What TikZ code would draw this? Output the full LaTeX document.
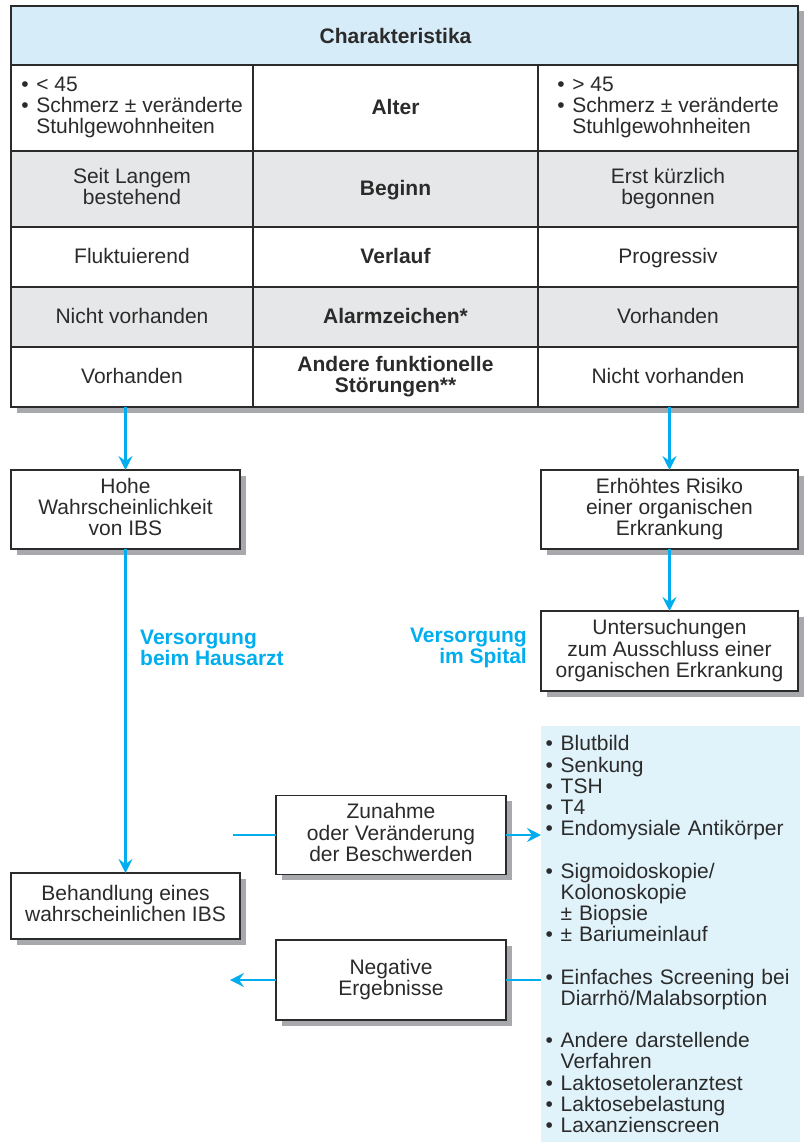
\documentclass[tikz,border=0pt]{standalone}
\usepackage{fontspec}
\setmainfont{Liberation Sans}
\usetikzlibrary{positioning}
\usetikzlibrary{arrows.meta}
\usetikzlibrary{shadows}

\definecolor{headblue}{HTML}{D6ECF8}
\definecolor{rowgray}{HTML}{E6E7E8}
\definecolor{listblue}{HTML}{E0F2FA}
\definecolor{arrowblue}{HTML}{00AEEF}
\definecolor{shadowgray}{HTML}{A7A9AC}
\definecolor{linegray}{HTML}{2B2B2B}

\newcommand{\basefont}{\fontsize{21}{21.2}\selectfont}
\newcommand{\cellstrut}{\rule[-5pt]{0pt}{23pt}}
\newcommand{\bul}{\makebox[15pt][l]{\textbullet}}
\newcommand{\ind}{\hspace*{15pt}}

\tikzset{
	cell/.style={draw=linegray,line width=1.5pt,rectangle,fill=white,outer sep=0pt,inner sep=0pt,align=center,
		execute at begin node=\cellstrut,execute at end node=\cellstrut,
		drop shadow={shadow xshift=5.5pt,shadow yshift=-5.5pt,fill=shadowgray,opacity=1}},
	colL/.style={cell,minimum width=242pt},
	colM/.style={cell,minimum width=285pt,font=\basefont\bfseries},
	colR/.style={cell,minimum width=260pt},
	stepbox/.style={cell,minimum width=229pt,minimum height=79pt},
	flow/.style={draw=arrowblue,line width=2.8pt,-{Stealth[length=14pt,width=14pt,inset=5pt]}},
	flowline/.style={draw=arrowblue,line width=2.8pt},
	carelabel/.style={text=arrowblue,font=\basefont\bfseries,inner sep=0pt},
}

\begin{document}
\begin{tikzpicture}[x=1pt,y=1pt,font=\basefont,text=linegray]
		\useasboundingbox (0,0) rectangle (805,-1142);

		% table
		\node [cell,fill=headblue,minimum width=787pt,minimum height=59pt,anchor=north west] (head) at (11,-6) {};

		\node [colL,below=0pt of head.south west,anchor=north west,minimum height=86pt,align=left] (alterL) {\bul{}< 45\\\bul{}Schmerz ± veränderte\\\ind{}Stuhlgewohnheiten};
		\node [colM,right=0pt of alterL,minimum height=86pt] (alterM) {Alter};
		\node [colR,right=0pt of alterM,minimum height=86pt,align=left] (alterR) {\bul{}> 45\\\bul{}Schmerz ± veränderte\\\ind{}Stuhlgewohnheiten};

		\node [colL,below=0pt of alterL,minimum height=76pt,fill=rowgray] (beginnL) {Seit Langem\\bestehend};
		\node [colM,right=0pt of beginnL,minimum height=76pt,fill=rowgray] (beginnM) {Beginn};
		\node [colR,right=0pt of beginnM,minimum height=76pt,fill=rowgray] (beginnR) {Erst kürzlich\\begonnen};

		\node [colL,below=0pt of beginnL,minimum height=60pt] (verlaufL) {Fluktuierend};
		\node [colM,right=0pt of verlaufL,minimum height=60pt] (verlaufM) {Verlauf};
		\node [colR,right=0pt of verlaufM,minimum height=60pt] (verlaufR) {Progressiv};

		\node [colL,below=0pt of verlaufL,minimum height=60pt,fill=rowgray] (alarmL) {Nicht vorhanden};
		\node [colM,right=0pt of alarmL,minimum height=60pt,fill=rowgray] (alarmM) {Alarmzeichen*};
		\node [colR,right=0pt of alarmM,minimum height=60pt,fill=rowgray] (alarmR) {Vorhanden};

		\node [colL,below=0pt of alarmL,minimum height=60pt] (andereL) {Vorhanden};
		\node [colM,right=0pt of andereL,minimum height=60pt] (andereM) {Andere funktionelle\\Störungen**};
		\node [colR,right=0pt of andereM,minimum height=60pt] (andereR) {Nicht vorhanden};

		\node [font=\basefont\bfseries] (headtext) at (head.center -| alterM.center) {Charakteristika};

		% pathway boxes
		\node [stepbox] (hohe) at (125.5,-509.5) {Hohe\\Wahrscheinlichkeit\\von IBS};
		\node [stepbox,minimum width=257pt] (risiko) at (669.5,-509.5) {Erhöhtes Risiko\\einer organischen\\Erkrankung};
		\node [stepbox,minimum width=257pt,minimum height=80pt] (unters) at (669.5,-651) {Untersuchungen\\zum Ausschluss einer\\organischen Erkrankung};
		\node [stepbox,minimum height=66pt] (behandlung) at (125.5,-906) {Behandlung eines\\wahrscheinlichen IBS};
		\node [stepbox,minimum width=230pt] (zunahme) at (391,-835) {Zunahme\\oder Veränderung\\der Beschwerden};
		\node [stepbox,minimum width=230pt,minimum height=80pt] (negativ) at (391,-980) {Negative\\Ergebnisse};

		\node [fill=listblue,anchor=north west,minimum height=416pt,inner xsep=4.5pt,inner ysep=0pt,text width=250pt,align=left] (tests) at (541,-726)
			{\bul{}Blutbild\\\bul{}Senkung\\\bul{}TSH\\\bul{}T4\\\bul{}Endomysiale Antikörper\\[21.2pt]
			\bul{}Sigmoidoskopie/\\\ind{}Kolonoskopie\\\ind{}± Biopsie\\\bul{}± Bariumeinlauf\\[21.2pt]
			\bul{}Einfaches Screening bei\\\ind{}Diarrhö/Malabsorption\\[21.2pt]
			\bul{}Andere darstellende\\\ind{}Verfahren\\\bul{}Laktosetoleranztest\\\bul{}Laktosebelastung\\\bul{}Laxanzienscreen};

		\node [carelabel,anchor=west,align=left] (hausarzt) at (140,-648) {Versorgung\\beim Hausarzt};
		\node [carelabel,anchor=east,align=right] (spital) at (527,-648) {Versorgung\\im Spital};

		\coordinate [left=43pt of zunahme.west] (zstart);
		\coordinate [left=46pt of negativ.west] (nend);

		\draw [flow] (hohe.north |- andereL.south) -- (hohe.north);
		\draw [flow] (risiko.north |- andereR.south) -- (risiko.north);
		\draw [flow] (risiko.south) -- (unters.north);
		\draw [flow] (hohe.south) -- (behandlung.north);
		\draw [flowline] (zstart) -- (zunahme.west);
		\draw [flow] (zunahme.east) -- (zunahme.east -| tests.west);
		\draw [flowline] (negativ.east -| tests.west) -- (negativ.east);
		\draw [flow] (negativ.west) -- (nend);
	\end{tikzpicture}
\end{document}
